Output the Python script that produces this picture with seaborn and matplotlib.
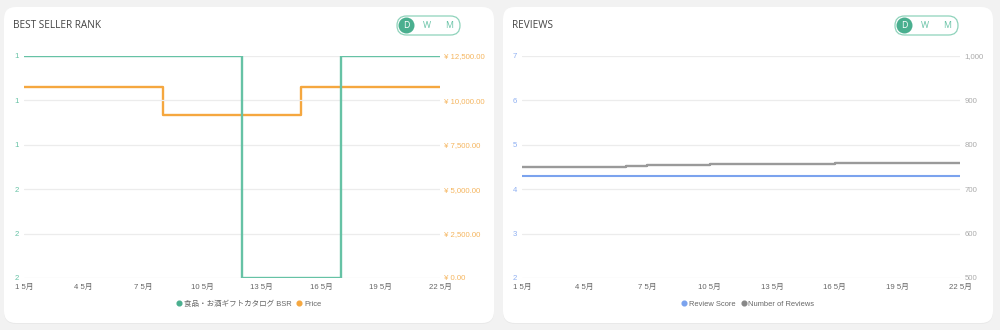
import matplotlib
matplotlib.use("Agg")
import matplotlib.pyplot as plt
import matplotlib.transforms as mtrans
import seaborn as sns
import pandas as pd
from matplotlib.patches import FancyBboxPatch, Circle
from matplotlib.lines import Line2D
from matplotlib.ticker import FixedLocator, FuncFormatter

# ---------------- data ----------------
days = list(range(1, 23))
bsr = [1]*11 + [2]*5 + [1]*6                     # rank (day 12-16 = 2)
price = [10750]*7 + [9180]*7 + [10750]*8          # yen
review_score = [4.3]*22
num_reviews = [751]*5 + [753] + [755]*3 + [756]*4 + [757]*2 + [758]*7
xtick_days = [1, 4, 7, 10, 13, 16, 19, 22]
xtick_labels = [f"{d} 5月" for d in xtick_days]
bsr_ticks = [1.0, 1.2, 1.4, 1.6, 1.8, 2.0]
price_ticks = [0, 2500, 5000, 7500, 10000, 12500]
score_ticks = [2, 3, 4, 5, 6, 7]
count_ticks = [500, 600, 700, 800, 900, 1000]
bsr_label = "食品・お酒ギフトカタログ BSR"

df = pd.DataFrame({"day": days, "bsr": bsr, "price": price,
                   "score": review_score, "count": num_reviews})

sns.set_theme(style="white")
FAM = ["Liberation Sans", "Noto Sans CJK JP", "DejaVu Sans"]
plt.rcParams["font.family"] = FAM

W, H = 1000, 330
fig = plt.figure(figsize=(10, 3.3), dpi=100)
fig.patch.set_facecolor("#f2f2f2")

def px(x, y):
    return x / W, 1 - y / H

# cards
for x0 in (4, 503):
    sh = FancyBboxPatch((x0 / W, 1 - 324 / H), 490 / W, 316 / H,
                        boxstyle="round,pad=0,rounding_size=0.012",
                        transform=fig.transFigure, facecolor="#e9e9e9",
                        edgecolor="none", zorder=0, mutation_aspect=W / H)
    fig.patches.append(sh)
    card = FancyBboxPatch((x0 / W, 1 - 323 / H), 490 / W, 316 / H,
                          boxstyle="round,pad=0,rounding_size=0.012",
                          transform=fig.transFigure, facecolor="white",
                          edgecolor="none", zorder=0.5, mutation_aspect=W / H)
    fig.patches.append(card)

GREEN = "#66c2a5"
ORANGE = "#f5a73f"
BLUE = "#7ba3ee"
GRAY = "#9a9a9a"
TS = 5.6

def style_axes(ax, left_color, right_ax, right_color):
    ax.set_facecolor("none")
    for s in ax.spines.values():
        s.set_visible(False)
    for s in right_ax.spines.values():
        s.set_visible(False)
    ax.grid(axis="y", color="#ececec", lw=0.9)
    ax.grid(axis="x", visible=False)
    right_ax.grid(False)
    ax.set_xlim(1, 22)
    ax.xaxis.set_major_locator(FixedLocator(xtick_days))
    ax.set_xticklabels(xtick_labels)
    ax.tick_params(axis="x", length=0, pad=4.5, labelsize=TS, labelcolor="#666666")
    ax.tick_params(axis="y", length=0, pad=3.5, labelsize=TS, labelcolor=left_color)
    right_ax.tick_params(axis="y", length=0, pad=3.2, labelsize=TS, labelcolor=right_color)
    ax.set_xlabel("")
    ax.set_ylabel("")
    right_ax.set_ylabel("")

# ---------------- left: BSR / Price ----------------
axL = fig.add_axes([0.024, 1 - 278 / H, 0.416, 222 / H])
axL2 = axL.twinx()
sns.lineplot(data=df, x="day", y="bsr", ax=axL, color=GREEN, lw=1.7,
             drawstyle="steps-post", zorder=3)
sns.lineplot(data=df, x="day", y="price", ax=axL2, color=ORANGE, lw=1.7,
             drawstyle="steps-post", zorder=2)
axL.set_ylim(2, 1)
axL.yaxis.set_major_locator(FixedLocator(bsr_ticks))
axL.yaxis.set_major_formatter(FuncFormatter(lambda v, p: f"{int(round(v + 1e-9))}"))
axL2.set_ylim(0, 12500)
axL2.yaxis.set_major_locator(FixedLocator(price_ticks))
axL2.yaxis.set_major_formatter(FuncFormatter(lambda v, p: f"¥ {v:,.2f}"))
style_axes(axL, GREEN, axL2, "#f5b55e")
axL.set_zorder(3)
axL2.set_zorder(2)

# ---------------- right: Reviews ----------------
axR = fig.add_axes([0.522, 1 - 278 / H, 0.438, 222 / H])
axR2 = axR.twinx()
sns.lineplot(data=df, x="day", y="score", ax=axR, color=BLUE, lw=1.5,
             drawstyle="steps-post", zorder=3)
sns.lineplot(data=df, x="day", y="count", ax=axR2, color=GRAY, lw=1.7,
             drawstyle="steps-post", zorder=2)
axR.set_ylim(2, 7)
axR.yaxis.set_major_locator(FixedLocator(score_ticks))
axR.yaxis.set_major_formatter(FuncFormatter(lambda v, p: f"{int(v)}"))
axR2.set_ylim(500, 1000)
axR2.yaxis.set_major_locator(FixedLocator(count_ticks))
axR2.yaxis.set_major_formatter(FuncFormatter(lambda v, p: f"{int(v):,}"))
style_axes(axR, "#8fb0f2", axR2, "#aaaaaa")
axR.set_zorder(3)
axR2.set_zorder(2)

# ---------------- titles & toggles ----------------
TF = ["Open Sans", "DejaVu Sans"]
for tx, title, px0 in ((13, "BEST SELLER RANK", 397), (512, "REVIEWS", 895)):
    fig.text(*px(tx, 26), title, fontsize=7.2, color="#444444",
             family=TF, va="center", ha="left")
    pill = FancyBboxPatch((px0 / W, 1 - 35 / H), 63 / W, 19 / H,
                          boxstyle="round,pad=0,rounding_size=0.0095",
                          transform=fig.transFigure, facecolor="white",
                          edgecolor="#8fd3bb", lw=0.9, mutation_aspect=W / H,
                          zorder=2)
    fig.patches.append(pill)
    fig.patches.append(Circle((px0 + 9.5, H - 25.5), radius=8,
                              transform=mtrans.IdentityTransform(),
                              facecolor="#4aaf8f", edgecolor="none", zorder=3))
    fig.text(*px(px0 + 9.5, 25.5), "D", fontsize=6.3, color="white",
             ha="center", va="center", family=TF, zorder=4)
    fig.text(*px(px0 + 29.5, 25.5), "W", fontsize=6.3, color="#66c2a5",
             ha="center", va="center", family=TF, zorder=4)
    fig.text(*px(px0 + 52, 25.5), "M", fontsize=6.3, color="#66c2a5",
             ha="center", va="center", family=TF, zorder=4)

# ---------------- legends ----------------
def dot(color):
    return Line2D([], [], marker="o", ls="none", markersize=3.4,
                  markerfacecolor=color, markeredgecolor=color)

for cx, handles, labels in ((0.249, [dot("#4aaf8f"), dot(ORANGE)], [bsr_label, "Price"]),
                            (0.748, [dot(BLUE), dot("#888888")], ["Review Score", "Number of Reviews"])):
    fig.legend(handles, labels, loc="center", bbox_to_anchor=(cx, 1 - 304 / H),
               ncol=2, frameon=False, fontsize=5.4, handlelength=0.6,
               handletextpad=0.35, columnspacing=0.8, labelcolor="#666666")

fig.savefig("out.png", dpi=100, facecolor=fig.get_facecolor())
